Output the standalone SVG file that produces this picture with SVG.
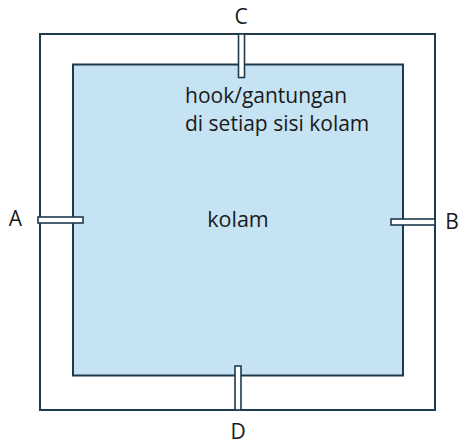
<svg xmlns="http://www.w3.org/2000/svg" width="459" height="444" viewBox="0 0 459 444">
<style>
.ln{fill:none;stroke:#1e3a4c;stroke-width:2}
.hk{fill:#ffffff;stroke:#1e3a4c;stroke-width:1.6}
.t{font-family:"Open Sans","Liberation Sans",sans-serif;fill:#1a1a1a}
.lb{font-size:21px}
.bd{font-size:21px}
</style>
<rect width="459" height="444" fill="#ffffff"/>
<g id="frame"><rect class="ln" x="40" y="34" width="395" height="376"/></g>
<g id="kolam"><rect x="73" y="64.5" width="330" height="311" fill="#c5e3f3" stroke="#1e3a4c" stroke-width="2"/>
<text class="t" font-size="21.5" x="238" y="227" text-anchor="middle">kolam</text></g>
<g id="label"><text class="t bd" x="185" y="103">hook/gantungan</text><text class="t bd" x="185" y="131">di setiap sisi kolam</text></g>
<g id="hooks">
<g id="hookC"><rect class="hk" x="238.5" y="34" width="6" height="43.5"/></g>
<g id="hookA"><rect class="hk" x="38" y="217" width="45" height="6"/></g>
<g id="hookB"><rect class="hk" x="391" y="219" width="44" height="6"/></g>
<g id="hookD"><rect class="hk" x="235" y="366" width="6" height="44"/></g>
</g>
<g id="letters">
<text class="t lb" x="241" y="24" text-anchor="middle">C</text>
<text class="t lb" x="15.5" y="226" text-anchor="middle">A</text>
<text class="t lb" x="452" y="229" text-anchor="middle">B</text>
<text class="t lb" x="238" y="439" text-anchor="middle">D</text>
</g>
</svg>
